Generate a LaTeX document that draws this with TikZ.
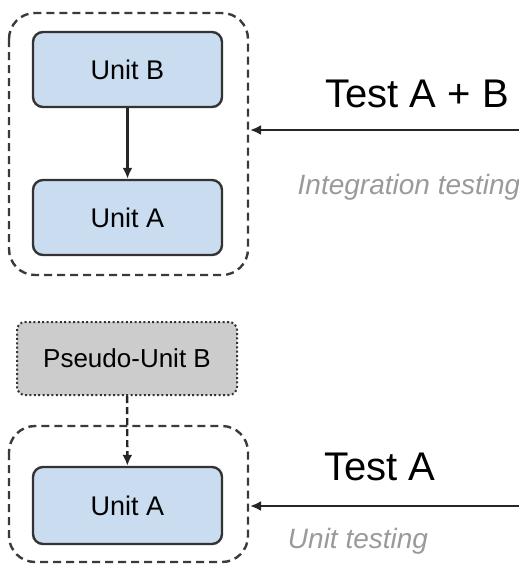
\documentclass[tikz,border=0pt]{standalone}
\usepackage{fontspec}
\setmainfont{Liberation Sans}
\usetikzlibrary{arrows.meta}
\definecolor{unitfill}{HTML}{C9DCF0}
\definecolor{unitline}{HTML}{333333}
\definecolor{stubfill}{HTML}{CCCCCC}
\definecolor{frameline}{HTML}{3A3A3A}
\definecolor{notegray}{HTML}{9A9A9A}
\tikzset{
  unitbox/.style={draw=unitline, fill=unitfill, line width=2.4pt, rounded corners=10pt,
    minimum width=189pt, minimum height=75pt, inner sep=0pt, font=\fontsize{27}{32}\selectfont},
  stubbox/.style={draw=unitline, fill=stubfill, line width=2pt, rounded corners=8pt,
    dash pattern=on 2pt off 2.4pt,
    minimum width=220pt, minimum height=73pt, inner sep=0pt, font=\fontsize{26}{30}\selectfont},
  framebox/.style={draw=frameline, line width=2.4pt, rounded corners=26pt, dash pattern=on 8pt off 5pt},
  flow/.style={draw=black!85, line width=2.4pt, -{Latex[length=11pt,width=10pt]}},
  testlabel/.style={font=\fontsize{40}{46}\selectfont, inner sep=0pt},
  notelabel/.style={font=\fontsize{28}{32}\selectfont\itshape, text=notegray, inner sep=0pt}
}
\begin{document}
\begin{tikzpicture}[x=1pt,y=-1pt]
  \useasboundingbox (0,0) rectangle (519,565);

  % integration testing: both real units
  \draw[framebox] (9,13) rectangle (248,275);
  \node[unitbox] (ub) at (127.5,69.5) {Unit B};
  \node[unitbox] (ua) at (127.5,217.5) {Unit A};
  \draw[flow] (ub) -- (ua);
  \coordinate (topin) at (250,130);
  \coordinate (topout) at (519,130);
  \draw[flow] (topout) -- (topin);
  \node[testlabel] (t1) at (417,94) {Test A + B};
  \node[notelabel] (n1) at (409,187) {Integration testing};

  % unit testing: unit A against a stand-in for B
  \node[stubbox] (pb) at (127,358.5) {Pseudo-Unit B};
  \draw[framebox] (9,426) rectangle (248,562);
  \node[unitbox, minimum height=77pt] (ua2) at (127.5,505.5) {Unit A};
  \draw[flow, dash pattern=on 7pt off 4pt] (pb) -- (ua2);
  \coordinate (botin) at (250,506);
  \coordinate (botout) at (519,506);
  \draw[flow] (botout) -- (botin);
  \node[testlabel] (t2) at (380,467) {Test A};
  \node[notelabel] (n2) at (358,541) {Unit testing};
\end{tikzpicture}
\end{document}
